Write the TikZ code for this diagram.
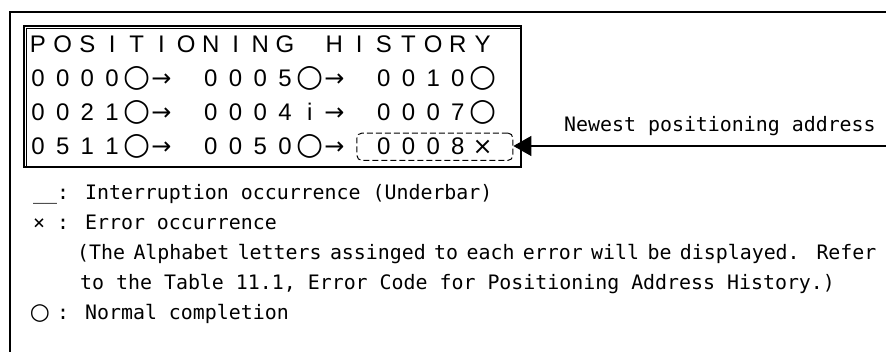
\documentclass[tikz,border=0pt]{standalone}
\usepackage{fontspec}
\usetikzlibrary{arrows.meta,fit}
\newfontfamily\lcdfont{Liberation Sans}
\newfontfamily\symfont{DejaVu Sans}
\newfontfamily\notefont{DejaVu Sans Mono}
\newcommand*\okmark{{\symfont\fontsize{31}{31}\selectfont ○}}
\newcommand*\nextmark{{\symfont →}}
\newcommand*\errmark{{\symfont ×}}
\newcommand*\blankcell{-}
% one display row: name, baseline, cells (- = blank cell)
\newcommand\lcdrow[3]{\foreach \ch [count=\i from 0] in {#3}{\ifx\ch\blankcell\else\node[cell] (#1-\i) at (38+24.7*\i,#2) {\ch};\fi}}
\tikzset{cell/.style={anchor=base,inner sep=0pt,font=\lcdfont\fontsize{24}{24}\selectfont},note/.style={anchor=base west,inner sep=0pt,font=\notefont\fontsize{19.9}{24}\selectfont},sym/.style={anchor=base,inner sep=0pt,font=\symfont\fontsize{23}{23}\selectfont},frame/.style={line width=2pt},pointer/.style={-{Triangle[length=18pt,width=20pt]},line width=1.2pt}}

\begin{document}
\begin{tikzpicture}[x=1pt,y=-1pt]
\useasboundingbox (0,0) rectangle (886,352);
% frames
\draw[frame] (886,12) -| (10,352);
\draw[line width=1.5pt] (24,26) rectangle (521,167);
\draw[line width=0.8pt] (26.5,167) |- (521,28.5);
% display
\lcdrow{title}{53}{P,O,S,I,T,I,O,N,I,N,G,-,H,I,S,T,O,R,Y}
\lcdrow{a}{87}{0,0,0,0,\okmark,\nextmark,-,0,0,0,5,\okmark,\nextmark,-,0,0,1,0,\okmark}
\lcdrow{b}{121}{0,0,2,1,\okmark,\nextmark,-,0,0,0,4,i,\nextmark,-,0,0,0,7,\okmark}
\lcdrow{c}{155}{0,5,1,1,\okmark,\nextmark,-,0,0,5,0,\okmark,\nextmark,-,0,0,0,8,\errmark}
\node[draw,dash pattern=on 6pt off 3pt,rounded corners=5pt,line width=1pt,inner xsep=20pt,inner ysep=5pt,fit=(c-14)(c-18)] (newest) {};
\coordinate (ptr) at (886,146);
\draw[pointer] (ptr) -- (ptr -| newest.east);
\node[note] (newlbl) at (564,132) {Newest positioning address};
% legend
\node[note] (intkey) at (33,200) {\_\_: Interruption occurrence (Underbar)};
\node[note] (errkey) at (33,230) {× : Error occurrence};
\node[note] (errnote1) at (77,260) {\spaceskip=8.4pt (The Alphabet letters assinged to each error will be displayed.\ \ Refer};
\node[note] (errnote2) at (80,290) {to the Table 11.1, Error Code for Positioning Address History.)};
\node[sym] (okkey) at (40,320) {○};
\node[note] (okdesc) at (57,320) {: Normal completion};
\end{tikzpicture}
\end{document}
